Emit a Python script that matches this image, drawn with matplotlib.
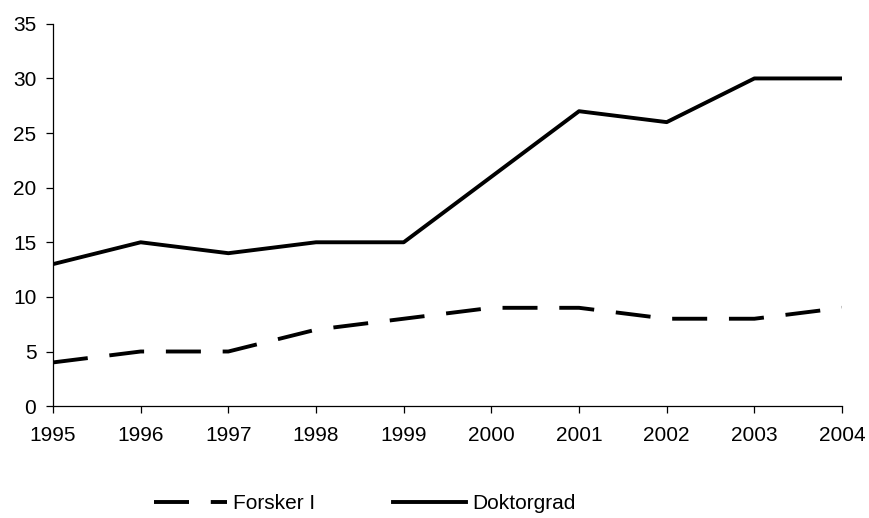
import matplotlib
matplotlib.use("Agg")
import matplotlib.pyplot as plt

plt.rcParams['font.family'] = ['Liberation Sans', 'DejaVu Sans']

# data
years = [1995, 1996, 1997, 1998, 1999, 2000, 2001, 2002, 2003, 2004]
forsker = [4, 5, 5, 7, 8, 9, 9, 8, 8, 9]
doktorgrad = [13, 15, 14, 15, 15, 21, 27, 26, 30, 30]
yticks = [0, 5, 10, 15, 20, 25, 30, 35]

fig = plt.figure(figsize=(8.69, 5.18), dpi=100)
ax = fig.add_axes([0.061, 0.216, 0.908, 0.738])

ax.plot(years, forsker, color='black', lw=2.8, dashes=(9, 5.6), label='Forsker I')
ax.plot(years, doktorgrad, color='black', lw=2.8, label='Doktorgrad')

ax.set_xlim(years[0], years[-1])
ax.set_ylim(0, 35)
ax.set_xticks(years)
ax.set_yticks(yticks)

for s in ['top', 'right']:
    ax.spines[s].set_visible(False)
for s in ['left', 'bottom']:
    ax.spines[s].set_linewidth(0.9)
    ax.spines[s].set_color('black')

ax.tick_params(axis='both', direction='out', length=5, width=0.9, labelsize=15, colors='black')
ax.tick_params(axis='x', pad=9)
ax.tick_params(axis='y', pad=7)

leg = ax.legend(loc='center', bbox_to_anchor=(0.395, -0.255), ncol=2, frameon=False,
                fontsize=15, handlelength=3.5, handletextpad=0.33, columnspacing=3.7)

fig.savefig('out.png', dpi=100)
